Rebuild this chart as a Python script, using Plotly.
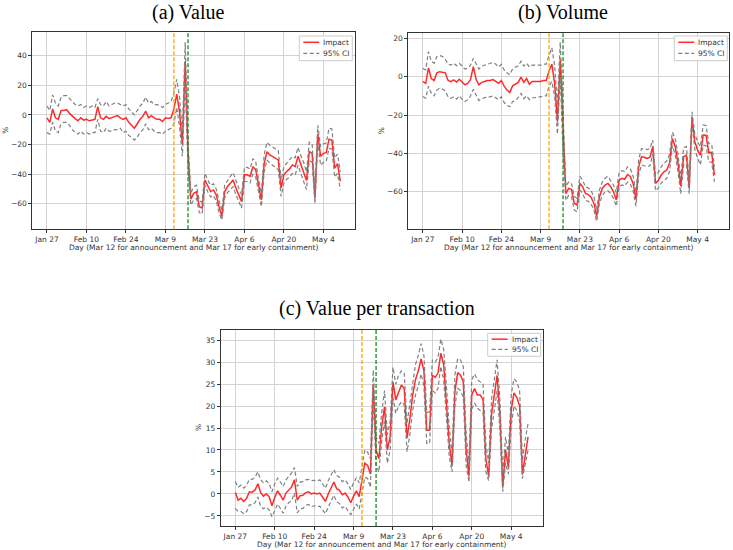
import pandas as pd
import plotly.graph_objects as go

# ---------------- data ----------------
start_date = "2020-01-27"
n_days = 105
event_dates = ["2020-03-12", "2020-03-17"]
event_colors = ["#FFA500", "#1a8a1a"]
tick_dates = ["2020-01-27", "2020-02-10", "2020-02-24", "2020-03-09",
              "2020-03-23", "2020-04-06", "2020-04-20", "2020-05-04"]
tick_labels = ["Jan 27", "Feb 10", "Feb 24", "Mar 9", "Mar 23", "Apr 6", "Apr 20", "May 4"]

val_impact = [-2, -5, 4, -2, -3, 3, 3, 3.5, 1, -1,
              -2.5, -4, -2, -3.5, -3, -4, -3.5, -3, 5.5, -2,
              -3, -1, -2.5, -2, -1, -0.5, -2, -3, -2, -5,
              -7, -9, -6, -3, -1, 2.5, -2, -0.5, -2, -3,
              -3, -4.5, -2, -2.5, -2, 4, 14, 2, -20, 36,
              -25, -57, -53, -52, -62, -63, -44, -48.4, -51.8, -50.7,
              -54, -62, -68.5, -51.8, -48.4, -46.2, -44, -49.5, -54, -58.6,
              -40.5, -40.5, -41.5, -35, -37, -48.5, -57.5, -33, -25, -27,
              -28, -29.3, -30.4, -49.5, -40.5, -38.3, -36.5, -33.8, -35, -28,
              -33.8, -38, -44.4, -24.8, -26, -56.3, -12.8, -28, -26, -25.5,
              -16.4, -17, -36, -33, -45]
val_upper = [6, 3, 13.5, 8, 6, 12, 13, 13, 11, 9,
             7, 6, 7, 5, 6, 5, 6, 5, 11, 7,
             6, 9, 6, 7, 8, 8, 7, 6, 7, 4,
             2, 0, 3, 6, 8, 12, 8, 9, 7, 7,
             6, 5, 7, 8, 9, 15, 24, 12, -12, 49,
             -18, -53, -48.5, -47.5, -58, -59, -39.5, -44, -47.5, -46.5,
             -50, -58, -64.5, -47.5, -44, -41.5, -39, -45, -49.5, -54,
             -35.5, -35.5, -36.5, -29.5, -31.5, -43.5, -53, -27, -18.5, -20.5,
             -22, -23, -24, -44, -35, -32.5, -30.5, -28, -29, -22,
             -27.5, -32, -38.5, -18.5, -19.5, -51, -7, -21.5, -19.5, -19,
             -9, -9.5, -29, -26.5, -38.5]
val_lower = [-12, -13, -5, -11, -12, -6, -5, -5, -7, -10,
             -12, -13, -11, -13, -12, -13, -12, -12, -3, -11,
             -12, -9, -11, -11, -10, -10, -9, -12, -11, -14,
             -15, -17, -15, -12, -10, -6, -10, -9, -11, -12,
             -12, -13, -11, -10, -9, -6, 5, -8, -28, 22,
             -35, -61, -57.5, -56.5, -66, -67, -47.5, -52, -55.5, -54.5,
             -58, -66, -71, -56, -52.5, -50.5, -48.5, -54, -58.5, -63,
             -45, -45, -46, -40, -42, -53.5, -62, -38.5, -30.5, -32.5,
             -34, -35.5, -37, -55, -46, -43.5, -42, -39.5, -40.5, -34,
             -39.5, -44, -50.5, -31, -32, -60, -18.5, -34, -32, -31.5,
             -22.5, -23, -42, -39.5, -50.5]

vol_impact = [-2.6, -3.5, 4.5, -1, -2, 2, 2.6, 2.3, 2, -2,
              -2.6, -1.7, -2.8, -1.4, -3.1, -4.3, -3.5, -1.5, 5.2, -1.5,
              -4.3, -3, -2.5, -2, -2, -1.5, -2.5, -3.5, -2, -5,
              -7, -8.3, -4.8, -4, -3, -0.3, -3, -1, -4, -2.5,
              -2.5, -2.5, -2.5, -2, -2, 3, 6.5, -3.5, -23.5, 9,
              -30, -61, -58.3, -58.8, -66, -67, -55.7, -57.4, -60.9, -61.5,
              -63, -66, -73, -62.6, -58.3, -56.5, -55.7, -57.4, -60, -64.3,
              -53.9, -53, -53.5, -51, -52, -55.7, -64, -47, -41.7, -42,
              -42.6, -42, -36.5, -55.7, -54, -51.3, -49.6, -48.7, -45, -32.2,
              -36.5, -45, -57, -41.7, -41, -57.7, -21.2, -34, -38.3, -41,
              -30.4, -30.5, -39.6, -39.5, -51.3]
vol_upper = [4.3, 3.5, 13, 8, 7, 10.5, 11, 10.5, 9, 6.5,
             6, 7, 5.7, 7, 5.5, 3.9, 4.5, 6, 9.5, 7,
             4, 5.5, 6, 6.5, 7, 7.4, 6.5, 5, 6.5, 3.5,
             2, 1, 4, 5, 5.5, 8, 5.5, 7, 5, 6,
             6, 6, 6, 6.5, 6.5, 11, 15, 6, -15, 18,
             -22, -57, -55, -55.5, -62.5, -63.5, -52, -54, -57.5, -58,
             -59.5, -62.5, -69.5, -59, -55, -53, -52, -54, -56.5, -60.5,
             -50, -49, -49.5, -47, -48, -52, -60, -43, -37.5, -37.5,
             -38, -37.5, -33, -51.5, -50, -47, -45, -44, -40.5, -29,
             -32, -40.5, -53, -37, -36.5, -54, -18.3, -30, -34, -36.5,
             -25.2, -25.5, -35, -35, -47]
vol_lower = [-10.4, -11.3, -5, -8.7, -10, -7, -6, -6.5, -7.5, -10.5,
             -11.3, -10.5, -11.7, -10, -11.8, -13, -12, -10, -6.6, -10,
             -12.5, -11.5, -11, -10.5, -10.5, -10, -11, -12, -10.5, -13.5,
             -15, -15.7, -13, -12.5, -11, -8.7, -11.5, -10, -12, -11,
             -11, -10.5, -10.5, -10, -10, -5, -2.5, -10, -30, 0,
             -40, -64.5, -62, -62.5, -69.5, -70.5, -59, -61, -64.5, -65,
             -66.5, -69.5, -75.5, -66, -62, -60, -59.5, -61, -63.5, -67.5,
             -57.5, -56.5, -57, -55, -56, -59.5, -67.5, -51, -46, -46.5,
             -47, -46.5, -40.5, -59.5, -58, -55.5, -54, -53, -49.5, -36,
             -40.5, -49.5, -61, -46, -45.5, -61, -24.3, -38, -42.5, -46,
             -35.7, -36, -44.5, -44.5, -54.8]

vpt_impact = [0.3, -1.4, -1, -1.7, -1, 0.5, 0.4, 0.9, 2.3, 0.3,
              -0.5, 0, -0.6, -2.7, -0.8, 0.7, -0.3, -1.4, 0.2, 1,
              1.6, 3.2, -1.4, -0.4, -0.3, 0.3, 0.5, 0, 0.2, 0,
              0.2, -0.7, -1.7, 0, 1.3, 2.7, 1.2, 0.8, -0.2, 0.2,
              -0.7, -2, -0.5, 0.7, -0.6, 3, 7, 6.5, 4.5, 25,
              10, 8, 15.3, 19.8, 10, 13, 25.5, 21.4, 23.3, 24.8,
              24, 12.7, 17, 22.5, 26, 28, 30.7, 28, 14.5, 14.5,
              27, 26.5, 27.5, 32, 29.5, 21, 11.5, 6.5, 23.3, 27.6,
              27, 25.5, 10, 4, 22.5, 24, 22.5, 22.5, 21.5, 8,
              4, 18, 22, 27, 18, 1.5, 10, 6, 19, 23,
              22, 20, 4.5, 9, 13]
vpt_upper = [2.8, 1.5, 2, 1.3, 2, 3.3, 3.3, 3.8, 5, 3.2,
             2.5, 3, 2.4, 0.5, 2.3, 3.6, 2.7, 1.7, 3.2, 4,
             4.8, 6, 1.7, 2.7, 2.8, 3.2, 3.3, 3, 3.1, 2.9,
             3.2, 2.3, 1.3, 3, 4.3, 5.5, 4.2, 3.8, 2.8, 3.2,
             2.3, 1, 2.5, 3.7, 2.5, 6.5, 10, 9.5, 8, 28.2,
             13, 11.5, 18.5, 23.5, 13.5, 16.5, 28.8, 25, 27, 28,
             27.5, 16, 20.5, 26, 29.5, 31.5, 34.2, 31.5, 18.5, 18.7,
             30.5, 30, 31, 35.2, 33, 24.5, 15, 9.5, 27, 30.8,
             30.5, 29, 13.5, 7, 26, 27.3, 26, 25.5, 25, 11.5,
             7, 21.5, 25.5, 30.5, 21.5, 4.5, 13, 9, 22.5, 26.2,
             25.5, 23.5, 7.5, 12.5, 16]
vpt_lower = [-3.3, -4, -4, -4.5, -4, -2.5, -2.5, -2, -0.7, -2.8,
             -3.4, -3, -3.6, -5.2, -3.8, -2.3, -3.3, -4.4, -2.8, -2,
             -1.5, 0.2, -4.3, -3.4, -3.3, -2.6, -2.4, -2.9, -2.7, -2.9,
             -2.8, -3.7, -4.5, -3, -1.7, -0.3, -1.8, -2.2, -3.2, -2.8,
             -3.8, -4.7, -3.5, -2.3, -3.4, 0.5, 3.8, 3.5, 1.5, 21.5,
             6.5, 5, 12, 16.5, 7, 10, 22, 18.3, 20, 21,
             20.3, 9.6, 13.5, 19, 22.5, 24.5, 27.3, 24.5, 11.5, 11.5,
             23.5, 23, 24, 29, 26, 17.5, 8.5, 5, 20, 24,
             23.5, 22, 6.5, 2.7, 19.3, 20.7, 19.5, 19, 18.5, 5,
             3, 14.5, 18.5, 23.5, 14.5, 0.5, 7, 4.5, 15.5, 20,
             19, 16.5, 3.5, 6.5, 10]

panel_titles = ["(a) Value", "(b) Volume", "(c) Value per transaction"]
x_label = "Day (Mar 12 for announcement and Mar 17 for early containment)"
y_label = "%"
legend_names = ["Impact", "95% CI"]

# ---------------- styles ----------------
RED = "rgba(255,25,25,0.92)"
GRAY = "#808080"
CI_DASH = "4px,2.5px"

# ---------------- layout (pixels in a 733x550 page) ----------------
W, H = 733, 550
panels = [
    dict(impact=val_impact, upper=val_upper, lower=val_lower,
         px=(32.3, 355.0, 32.3, 229.3), yrange=[-77.3, 55.8], dtick=20,
         title_xy=(188, 12), ylab_x=6, leg=(352.3, 36.0, 24.7)),
    dict(impact=vol_impact, upper=vol_upper, lower=vol_lower,
         px=(408.3, 729.0, 33.3, 229.3), yrange=[-79.6, 22.6], dtick=20,
         title_xy=(563, 12), ylab_x=381, leg=(727.3, 36.0, 24.7)),
    dict(impact=vpt_impact, upper=vpt_upper, lower=vpt_lower,
         px=(220.7, 542.7, 330.0, 526.0), yrange=[-7.3, 37.3], dtick=5,
         title_xy=(377, 308), ylab_x=198, leg=(540.7, 333.3, 23.0)),
]

dates = pd.date_range(start_date, periods=n_days, freq="D")
x_range = [dates[0] - pd.Timedelta(days=5.2), dates[-1] + pd.Timedelta(days=5.2)]


def px_x(v):
    return v / W


def px_y(v):
    return 1 - v / H


fig = go.Figure()
annotations = []
shapes = []
layout_updates = {}
tick_font = dict(family="DejaVu Sans", size=7.5, color="#333333")
small_font = dict(family="DejaVu Sans", size=7.5, color="#333333")

for i, p in enumerate(panels):
    k = "" if i == 0 else str(i + 1)
    xa, ya = "x" + k, "y" + k
    x0, x1, y0, y1 = p["px"]

    fig.add_trace(go.Scatter(x=dates, y=p["impact"], mode="lines", name=legend_names[0],
                             line=dict(color=RED, width=1.5),
                             xaxis=xa, yaxis=ya, showlegend=False))
    fig.add_trace(go.Scatter(x=dates, y=p["upper"], mode="lines", name=legend_names[1],
                             line=dict(color=GRAY, width=1.2, dash=CI_DASH),
                             xaxis=xa, yaxis=ya, showlegend=False))
    fig.add_trace(go.Scatter(x=dates, y=p["lower"], mode="lines", name=legend_names[1],
                             line=dict(color=GRAY, width=1.2, dash=CI_DASH),
                             xaxis=xa, yaxis=ya, showlegend=False))

    for ed, ec in zip(event_dates, event_colors):
        shapes.append(dict(type="line", xref=xa, yref=ya + " domain", x0=ed, x1=ed, y0=0, y1=1,
                           line=dict(color=ec, width=1.3, dash="4px,2px")))

    layout_updates["xaxis" + k] = dict(
        domain=[px_x(x0), px_x(x1)], anchor=ya, type="date", range=x_range,
        tickvals=tick_dates, ticktext=tick_labels, tickfont=tick_font,
        showgrid=True, gridcolor="#d3d3d3", gridwidth=1, zeroline=False,
        showline=True, mirror=True, linecolor="#333333", linewidth=1,
        ticks="outside", ticklen=3, tickcolor="#333333")
    layout_updates["yaxis" + k] = dict(
        domain=[px_y(y1), px_y(y0)], anchor=xa, range=p["yrange"], dtick=p["dtick"], tick0=0,
        tickfont=tick_font, showgrid=True, gridcolor="#d3d3d3", gridwidth=1,
        zeroline=False, showline=True, mirror=True, linecolor="#333333", linewidth=1,
        ticks="outside", ticklen=3, tickcolor="#333333")

    # legend box (matplotlib-style, upper right)
    R, T, LH = p["leg"]
    shapes.append(dict(type="rect", xref="paper", yref="paper",
                       x0=px_x(R - 53), x1=px_x(R), y0=px_y(T + LH), y1=px_y(T),
                       fillcolor="rgba(255,255,255,0.85)", line=dict(color="#cccccc", width=1)))
    rows = [(T + LH * 0.255, dict(color=RED, width=1.5)),
            (T + LH * 0.70, dict(color=GRAY, width=1.2, dash=CI_DASH))]
    for (ry, ln), name in zip(rows, legend_names):
        shapes.append(dict(type="line", xref="paper", yref="paper",
                           x0=px_x(R - 49), x1=px_x(R - 33), y0=px_y(ry), y1=px_y(ry), line=ln))
        annotations.append(dict(text=name, xref="paper", yref="paper",
                                x=px_x(R - 31), y=px_y(ry), xanchor="left", yanchor="middle",
                                showarrow=False, font=small_font))

    # panel title
    annotations.append(dict(text=panel_titles[i], xref="paper", yref="paper",
                            x=px_x(p["title_xy"][0]), y=px_y(p["title_xy"][1]),
                            xanchor="center", yanchor="middle", showarrow=False,
                            font=dict(family="Liberation Serif", size=20, color="black")))
    # x label
    annotations.append(dict(text=x_label, xref="paper", yref="paper",
                            x=px_x((x0 + x1) / 2), y=px_y(y1 + 18.5),
                            xanchor="center", yanchor="middle", showarrow=False,
                            font=small_font))
    # y label
    annotations.append(dict(text=y_label, xref="paper", yref="paper",
                            x=px_x(p["ylab_x"]), y=px_y((y0 + y1) / 2),
                            xanchor="center", yanchor="middle", showarrow=False, textangle=-90,
                            font=small_font))

fig.update_layout(width=W, height=H, margin=dict(l=0, r=0, t=0, b=0),
                  paper_bgcolor="white", plot_bgcolor="white", showlegend=False,
                  annotations=annotations, shapes=shapes, **layout_updates)

fig.write_html("out.html", config={"displayModeBar": False},
               post_script="document.body.style.margin='0px';document.body.style.overflow='hidden';")
